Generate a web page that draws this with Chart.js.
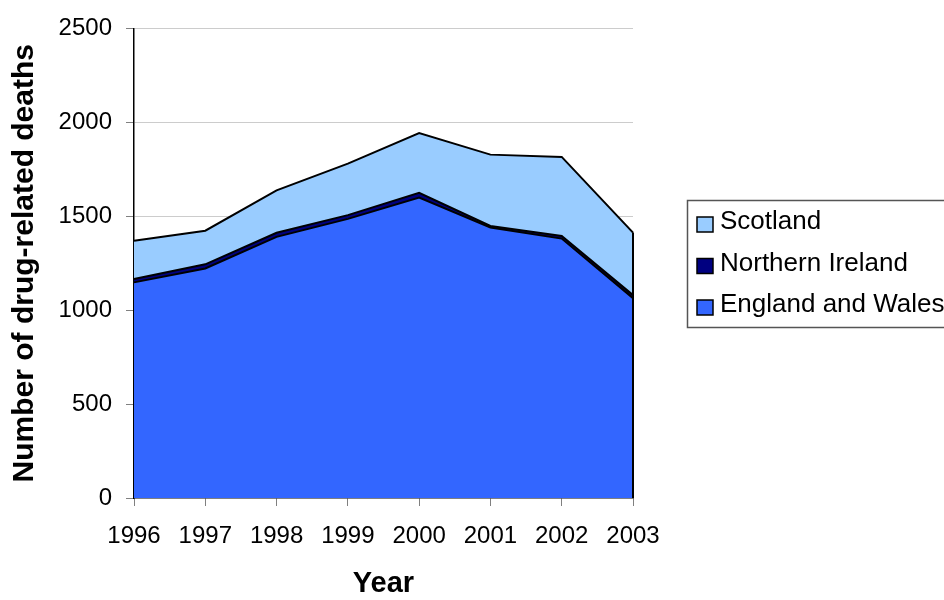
<!DOCTYPE html>
<html>
<head>
<meta charset="utf-8">
<script src="https://cdn.jsdelivr.net/npm/chart.js@4.4.1/dist/chart.umd.min.js"></script>
<style>
html,body{margin:0;padding:0;background:#fff;}
#wrap{width:944px;height:600px;}
</style>
</head>
<body>
<div id="wrap"><canvas id="c" width="944" height="600"></canvas></div>
<script>
const years = ['1996','1997','1998','1999','2000','2001','2002','2003'];
const englandWales = [1148, 1222, 1390, 1486, 1600, 1440, 1381, 1064];
const northernIreland = [18, 22, 22, 20, 25, 8, 14, 16];
const scotland = [204, 179, 226, 274, 318, 380, 421, 333];
const yTicks = [0, 500, 1000, 1500, 2000, 2500];

const FONT = "'Liberation Sans', Arial, sans-serif";

const legendPlugin = {
  id: 'boxLegend',
  afterDraw(chart) {
    const ctx = chart.ctx;
    ctx.save();
    ctx.strokeStyle = '#555';
    ctx.lineWidth = 1.5;
    ctx.fillStyle = '#fff';
    ctx.beginPath();
    ctx.rect(687.5, 200.5, 300, 127);
    ctx.fill();
    ctx.stroke();
    const items = chart.data.datasets.slice().reverse();
    ctx.font = '26px ' + FONT;
    ctx.textBaseline = 'middle';
    ctx.textAlign = 'left';
    items.forEach((ds, i) => {
      const cy = 222 + i * 41.5;
      ctx.fillStyle = ds.backgroundColor;
      ctx.fillRect(697, cy - 5, 16, 15);
      ctx.strokeStyle = '#000';
      ctx.lineWidth = 1.5;
      ctx.strokeRect(697, cy - 5, 16, 15);
      ctx.fillStyle = '#000';
      ctx.fillText(ds.label, 720, cy);
    });
    ctx.restore();
  }
};

const edgePlugin = {
  id: 'rightEdge',
  afterDatasetsDraw(chart) {
    const x = chart.scales.x;
    const y = chart.scales.y;
    const last = years.length - 1;
    const px = x.getPixelForValue(last);
    const total = englandWales[last] + northernIreland[last] + scotland[last];
    const ctx = chart.ctx;
    ctx.save();
    ctx.strokeStyle = '#000';
    ctx.lineWidth = 2;
    ctx.beginPath();
    ctx.moveTo(px, y.getPixelForValue(total));
    ctx.lineTo(px, y.getPixelForValue(0));
    ctx.stroke();
    ctx.restore();
  }
};

new Chart(document.getElementById('c'), {
  type: 'line',
  data: {
    labels: years,
    datasets: [
      { label: 'England and Wales', data: englandWales, backgroundColor: '#3366FF', borderColor: '#000', borderWidth: 2, fill: 'origin' },
      { label: 'Northern Ireland', data: northernIreland, backgroundColor: '#000080', borderColor: '#000', borderWidth: 2, fill: '-1' },
      { label: 'Scotland', data: scotland, backgroundColor: '#99CCFF', borderColor: '#000', borderWidth: 2, fill: '-1' }
    ]
  },
  options: {
    responsive: false,
    animation: false,
    devicePixelRatio: 1,
    elements: { point: { radius: 0 }, line: { tension: 0 } },
    layout: { padding: { top: 28, right: 311, left: 0, bottom: 0 } },
    plugins: { legend: { display: false }, tooltip: { enabled: false } },
    scales: {
      x: {
        offset: false,
        grid: { drawOnChartArea: false, drawTicks: true, tickLength: 8, tickColor: '#808080' },
        border: { color: '#000', width: 1.5 },
        ticks: { color: '#000', font: { family: FONT, size: 24 }, padding: 16, maxRotation: 0, autoSkip: false },
        title: { display: true, text: 'Year', color: '#000', font: { family: FONT, size: 29, weight: 'bold', lineHeight: 1 }, padding: { top: 0, bottom: 2 } },
        afterFit(scale) { scale.height = 102; }
      },
      y: {
        stacked: true,
        min: 0, max: 2500,
        afterBuildTicks(scale) { scale.ticks = yTicks.map(v => ({ value: v })); },
        grid: { color: (c) => c.tick && c.tick.value === 0 ? 'rgba(0,0,0,0)' : '#cccccc', lineWidth: 1, tickLength: 8, tickColor: '#808080' },
        border: { color: '#000', width: 1.5 },
        ticks: { color: '#000', font: { family: FONT, size: 24 }, padding: 14, callback: (v) => String(v) },
        title: { display: true, text: 'Number of drug-related deaths', color: '#000', font: { family: FONT, size: 30, weight: 'bold', lineHeight: 1 }, padding: { top: 10, bottom: 0 } },
        afterFit(scale) { scale.width = 134; }
      }
    }
  },
  plugins: [edgePlugin, legendPlugin]
});
</script>
</body>
</html>
